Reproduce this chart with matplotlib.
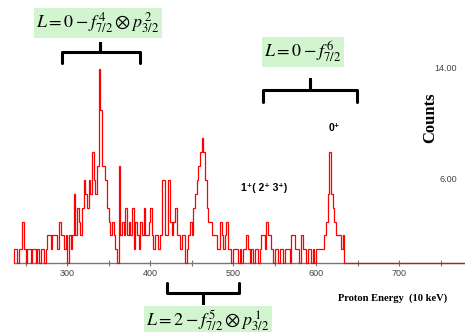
import matplotlib
matplotlib.use("Agg")
import matplotlib.pyplot as plt
import numpy as np

plt.rcParams['mathtext.fontset'] = 'stix'

# histogram : 2-channel bins starting at 236 (units of 10 keV)
bin_start = 236
bin_width = 2
counts = [
    1, 1, 0, 1, 1, 3, 1, 0, 1, 1,   # 236-256
    0, 1, 1, 0, 1, 0, 1, 1, 0, 1,   # 256-276
    2, 2, 1, 2, 2, 2, 1, 3, 2, 2,   # 276-296
    1, 2, 0, 2, 1, 2, 5, 2, 4, 3,   # 296-316
    2, 4, 6, 5, 4, 6, 5, 8, 6, 5,   # 316-336
    7, 14, 11, 7, 7, 6, 4, 3, 2, 3, # 336-356
    2, 1, 0, 7, 2, 3, 2, 4, 2, 3,   # 356-376
    2, 4, 1, 3, 2, 1, 3, 2, 4, 2,   # 376-396
    2, 3, 4, 2, 1, 2, 2, 1, 2, 6,   # 396-416
    6, 2, 2, 6, 3, 2, 3, 4, 2, 2,   # 416-436
    1, 2, 2, 0, 1, 2, 3, 2, 4, 5,   # 436-456
    6, 7, 8, 9, 8, 6, 4, 3, 3, 2,   # 456-476
    2, 2, 1, 1, 3, 2, 1, 2, 3, 1,   # 476-496
    1, 0, 1, 1, 1, 0, 1, 0, 1, 1,   # 496-516
    2, 1, 0, 1, 0, 1, 1, 0, 1, 2,   # 516-536
    2, 1, 3, 2, 2, 1, 0, 1, 1, 0,   # 536-556
    1, 1, 0, 1, 1, 1, 0, 2, 2, 1,   # 556-576
    1, 1, 0, 2, 1, 1, 0, 1, 1, 0,   # 576-596
    1, 0, 1, 1, 1, 1, 1, 2, 3, 5,   # 596-616
    8, 5, 4, 3, 2, 2, 2, 1, 2, 0,   # 616-636
]
x_end = 780
x_ticks = [300, 400, 500, 600, 700]
x_minor = [250, 350, 450, 550, 650, 750]
y_labels = [6, 14]

# braces : (left, centre, right, bar level, tip level, end level)
braces = [
    (294, 340, 388, 15.2, 15.85, 14.4),
    (536, 593, 649, 12.5, 13.3, 11.6),
    (420, 464, 507, -2.15, -2.9, -1.45),
]
configs = [
    r"$L=0-f_{7/2}^{\,4}\otimes p_{3/2}^{\,2}$",
    r"$L=0-f_{7/2}^{\,6}$",
    r"$L=2-f_{7/2}^{\,5}\otimes p_{3/2}^{\,1}$",
]
config_pos = [(98, 23), (303, 52), (208, 321)]   # pixels from top-left

counts = np.array(counts + [0] * ((x_end - bin_start) // bin_width - len(counts)))
edges = bin_start + bin_width * np.arange(len(counts) + 1)

fig = plt.figure(figsize=(4.65, 3.32), dpi=100)
ax = fig.add_axes([0, 0, 1, 1])
ax.set_xlim(219, 779.5)
ax.set_ylim(-4.96, 18.96)

ax.stairs(counts, edges, baseline=0, color='#ff0000', lw=0.9, zorder=3)

for s in ['top', 'left', 'right']:
    ax.spines[s].set_visible(False)
ax.spines['bottom'].set_position(('data', 0))
ax.spines['bottom'].set_bounds(bin_start, x_end)
ax.spines['bottom'].set_color('#777777')
ax.spines['bottom'].set_linewidth(1.0)
ax.set_yticks([])
ax.set_xticks(x_ticks)
ax.set_xticks(x_minor, minor=True)
ax.tick_params(axis='x', which='both', direction='inout', length=5, width=0.8,
               color='#777777', labelsize=6.5, labelcolor='#444444', pad=2)
for lab in ax.get_xticklabels():
    lab.set_family(['Liberation Sans'])

for v in y_labels:
    ax.text(0.983, v, f"{v:.2f}", transform=ax.get_yaxis_transform(),
            ha='right', va='center', fontsize=6.5, color='#444444',
            family='Liberation Sans')

fig.text(430 / 465, 1 - 118 / 332, "Counts", rotation=90, ha='center', va='center',
         fontsize=12, fontweight='bold', family='Liberation Serif')
fig.text(393 / 465, 1 - 298 / 332, "Proton Energy  (10 keV)", ha='center', va='center',
         fontsize=7.6, fontweight='bold', family='Liberation Serif')

fig.text(241 / 465, 1 - 188 / 332, "1\u207a( 2\u207a 3\u207a)", ha='left', va='center',
         fontsize=7.5, fontweight='bold', family=['Liberation Sans', 'DejaVu Sans'])
fig.text(334 / 465, 1 - 128 / 332, "0\u207a", ha='center', va='center',
         fontsize=7.5, fontweight='bold', family=['Liberation Sans', 'DejaVu Sans'])

for (l, c, r, bar, tip, end) in braces:
    ax.plot([l, l, c, c, c, r, r], [end, bar, bar, tip, bar, bar, end],
            color='black', lw=2.2, solid_joinstyle='round', solid_capstyle='round',
            zorder=4)

for txt, (px, py) in zip(configs, config_pos):
    fig.text(px / 465, 1 - py / 332, txt, ha='center', va='center', fontsize=13,
             bbox=dict(boxstyle='square,pad=0.12', fc='#d2f5cf', ec='none'))

plt.savefig('out.png', dpi=100)
